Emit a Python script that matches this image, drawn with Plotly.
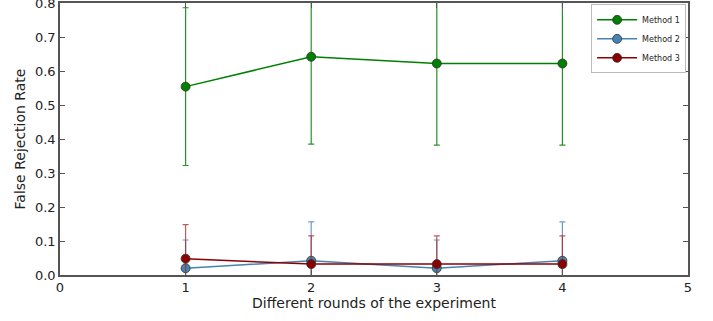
import plotly.graph_objects as go

rounds = [1, 2, 3, 4]
method1 = [0.554, 0.642, 0.622, 0.622]
method1_err = [0.232, 0.257, 0.240, 0.240]
method2 = [0.020, 0.042, 0.020, 0.042]
method2_err = [0.083, 0.114, 0.083, 0.114]
method3 = [0.048, 0.032, 0.032, 0.032]
method3_err = [0.100, 0.083, 0.083, 0.083]
names = ["Method 1", "Method 2", "Method 3"]
colors = ["#008000", "#4682b4", "#8b0000"]
err_colors = ["rgba(0,128,0,0.85)", "rgba(70,130,180,0.8)", "rgba(178,34,34,0.75)"]

fig = go.Figure()
for ys, es, name, c, ec in zip([method1, method2, method3],
                               [method1_err, method2_err, method3_err],
                               names, colors, err_colors):
    fig.add_trace(go.Scatter(
        x=rounds, y=ys, name=name, mode="lines+markers",
        line=dict(color=c, width=1.5),
        marker=dict(size=9, color=c, line=dict(color="#333333", width=0.8)),
        error_y=dict(type="data", array=es, arrayminus=es, visible=True,
                     color=ec, thickness=1.2, width=3),
    ))

axis_common = dict(
    showline=True, linecolor="#555555", linewidth=1.5, mirror="ticks",
    ticks="inside", ticklen=5, tickcolor="#555555", showgrid=False,
    zeroline=False, ticklabeloverflow="allow", automargin=False,
    tickfont=dict(family="DejaVu Sans", size=13, color="#222"),
)
fig.update_layout(
    width=713, height=321,
    margin=dict(l=60, r=25, t=3, b=46, autoexpand=False),
    plot_bgcolor="white", paper_bgcolor="white",
    font=dict(family="DejaVu Sans", color="#222"),
    xaxis=dict(range=[0, 5], tickvals=[0, 1, 2, 3, 4, 5],
               title=dict(text="Different rounds of the experiment", font=dict(size=14), standoff=4),
               **axis_common),
    yaxis=dict(range=[0, 0.8], tickvals=[0, 0.1, 0.2, 0.3, 0.4, 0.5, 0.6, 0.7, 0.8],
               tickformat=".1f",
               title=dict(text="False Rejection Rate", font=dict(size=14), standoff=6),
               **axis_common),
    legend=dict(x=0.997, y=0.995, xanchor="right", yanchor="top",
                bordercolor="#bbbbbb", borderwidth=1, bgcolor="white",
                font=dict(size=8, family="DejaVu Sans"), tracegroupgap=0,
                itemwidth=40),
    showlegend=True,
)
fig.write_html("out.html")
